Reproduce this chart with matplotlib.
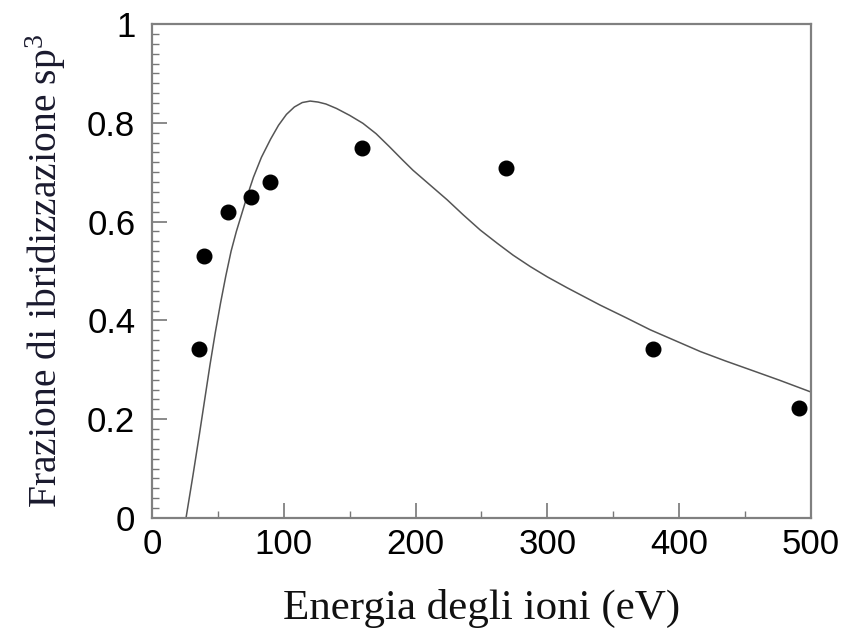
import matplotlib
matplotlib.use("Agg")
import matplotlib.pyplot as plt
from matplotlib.ticker import MultipleLocator, FixedLocator

plt.rcParams["mathtext.fontset"] = "custom"
plt.rcParams["mathtext.rm"] = "Liberation Serif"
plt.rcParams["mathtext.it"] = "Liberation Serif:italic"

# Experimental points
energy_pts = [35.7, 39.8, 57.7, 75.0, 89.9, 159.6, 268.6, 380.4, 491.0]
sp3_pts = [0.342, 0.530, 0.620, 0.650, 0.680, 0.750, 0.709, 0.342, 0.222]

# Model curve
energy_curve = [25.8, 31, 36, 40, 44, 48, 52, 56, 60, 64, 68, 72, 77, 83, 90, 96,
                102, 108, 114, 120, 126, 132, 140, 150, 160, 170, 180, 190, 198,
                211, 224, 236, 249, 262, 274, 287, 300, 315, 330, 340, 360, 378,
                397, 416, 435, 454, 476, 499]
sp3_curve = [0.0, 0.085, 0.17, 0.24, 0.31, 0.375, 0.435, 0.49, 0.54, 0.58, 0.615,
             0.65, 0.69, 0.73, 0.767, 0.795, 0.817, 0.832, 0.841, 0.844, 0.842,
             0.838, 0.829, 0.815, 0.799, 0.778, 0.752, 0.725, 0.704, 0.674, 0.644,
             0.614, 0.583, 0.556, 0.532, 0.509, 0.488, 0.466, 0.445, 0.431, 0.405,
             0.381, 0.359, 0.337, 0.318, 0.300, 0.279, 0.256]

xticks = [0, 100, 200, 300, 400, 500]
yticks = [0, 0.2, 0.4, 0.6, 0.8, 1]
yticklabels = ["0", "0.2", "0.4", "0.6", "0.8", "1"]

fig = plt.figure(figsize=(8.49, 6.44), dpi=100)
ax = fig.add_axes([152/849, 1-518/644, (811-152)/849, (518-24)/644])

ax.plot(energy_curve, sp3_curve, color="#555555", lw=1.1)
ax.plot(energy_pts, sp3_pts, "o", color="black", ms=10.5, mec="black")

ax.set_xlim(0, 500)
ax.set_ylim(0, 1)
ax.xaxis.set_major_locator(FixedLocator(xticks))
ax.xaxis.set_minor_locator(MultipleLocator(50))
ax.yaxis.set_major_locator(FixedLocator(yticks))
ax.yaxis.set_minor_locator(MultipleLocator(0.02))
ax.set_yticklabels(yticklabels)
ax.set_xticklabels([str(t) for t in xticks])

for s in ax.spines.values():
    s.set_color("#808080")
    s.set_linewidth(1.6)

ax.tick_params(axis="both", which="both", direction="in", colors="#777777",
               labelcolor="black", top=False, right=False)
ax.tick_params(axis="both", which="major", length=11, width=1.2, labelsize=25)
ax.tick_params(axis="both", which="minor", length=5, width=1.0)
ax.tick_params(axis="y", which="major", pad=12)
ax.tick_params(axis="x", which="major", pad=7)
for lab in ax.get_xticklabels() + ax.get_yticklabels():
    lab.set_fontfamily(["Liberation Sans", "DejaVu Sans"])

ax.set_xlabel("Energia degli ioni (eV)", fontfamily="Liberation Serif",
              fontsize=31, color="#111111", labelpad=20)
ax.set_ylabel("Frazione di ibridizzazione sp$^3$", fontfamily="Liberation Serif",
              fontsize=28.5, color="#1a1a2e", labelpad=14)

fig.savefig("out.png", dpi=100, facecolor="white")
